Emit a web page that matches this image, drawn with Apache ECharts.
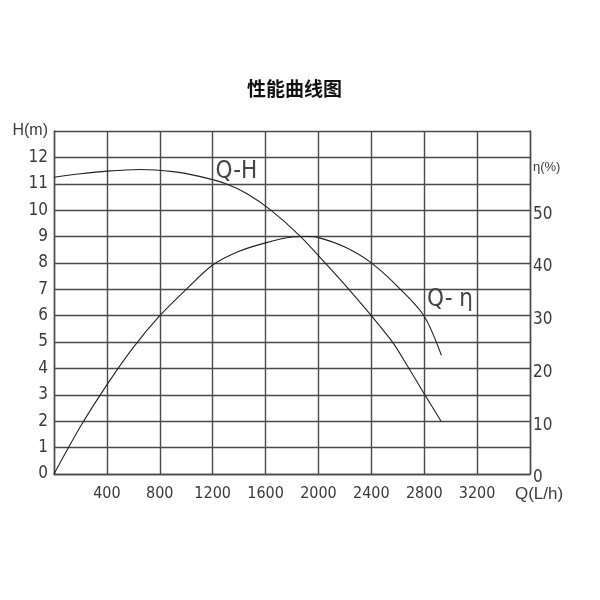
<!DOCTYPE html>
<html>
<head>
<meta charset="utf-8">
<script src="https://cdn.jsdelivr.net/npm/echarts@6/dist/echarts.min.js"></script>
<style>
html,body{margin:0;padding:0;background:#fff;}
#c{width:600px;height:600px;}
</style>
</head>
<body>
<div id="c"></div>
<script>
// Q-H curve (flow L/h, head m)
var qhFlow = [0, 200, 400, 650, 900, 1100, 1300, 1460, 1640, 1865, 2050, 2230, 2400, 2560, 2685, 2805, 2930];
var qhHead = [11.25, 11.38, 11.48, 11.54, 11.46, 11.28, 11.0, 10.62, 10.0, 9.0, 8.0, 7.0, 6.0, 5.0, 4.0, 3.0, 1.98];
// Q-eta curve (flow L/h, efficiency %)
var etaFlow = [0, 200, 400, 600, 800, 1000, 1200, 1400, 1600, 1800, 1900, 2000, 2200, 2400, 2620, 2800, 2930];
var etaVal = [0, 9.0, 16.9, 24.0, 30, 35, 39.6, 42.2, 43.8, 44.9, 45, 44.8, 43.0, 40, 35, 29.9, 22.5];
// axis ticks
var xTicks = [400, 800, 1200, 1600, 2000, 2400, 2800, 3200];
var hTicks = [0, 1, 2, 3, 4, 5, 6, 7, 8, 9, 10, 11, 12];
var etaTicks = [0, 10, 20, 30, 40, 50];
// curve names and label anchors
var qhName = 'Q-H';
var etaName = 'Q- η';
var qhLabelAt = [1380, 11.45];
var etaLabelAt = [2995, 33];

var NARROW = "'Liberation Sans Narrow','DejaVu Sans Condensed',sans-serif";
var GRIDC = '#4a4a4a';
var TXT = '#3a3a3a';

function pairs(xs, ys) { return xs.map(function (x, i) { return [x, ys[i]]; }); }

var chart = echarts.init(document.getElementById('c'));
chart.setOption({
  animation: false,
  backgroundColor: '#fff',
  title: {
    text: '性能曲线图',
    left: 247, top: 79, padding: 0,
    textStyle: { fontFamily: "'Noto Sans CJK SC',sans-serif", fontSize: 19, fontWeight: 'bold', color: '#111' }
  },
  grid: { left: 54, right: 70, top: 131, bottom: 126 },
  xAxis: {
    type: 'value', min: 0, max: 3600, interval: 400,
    axisLine: { show: true, lineStyle: { color: GRIDC, width: 1.4 } },
    axisTick: { show: false },
    splitLine: { show: true, lineStyle: { color: GRIDC, width: 1.4 } },
    axisLabel: {
      margin: 12, color: TXT, fontFamily: NARROW, fontSize: 16,
      formatter: function (v) {
        if (v === 3600) return '{q|Q(L/h)}';
        return xTicks.indexOf(v) >= 0 ? String(v) : '';
      },
      rich: { q: { fontFamily: "'Liberation Sans',sans-serif", fontSize: 17, color: TXT, padding: [0, 0, 0, 18] } }
    }
  },
  yAxis: [{
    type: 'value', min: 0, max: 13, interval: 1, position: 'left',
    axisLine: { show: true, lineStyle: { color: GRIDC, width: 1.4 } },
    axisTick: { show: false },
    splitLine: { show: true, lineStyle: { color: GRIDC, width: 1.4 } },
    axisLabel: {
      margin: 6, color: TXT, fontFamily: NARROW, fontSize: 17,
      formatter: function (v) {
        if (v === 13) return '{h|H(m)}';
        return hTicks.indexOf(v) >= 0 ? String(v) : '';
      },
      rich: { h: { fontFamily: "'Liberation Sans',sans-serif", fontSize: 16, color: TXT } }
    }
  }, {
    type: 'value', min: 0, max: 65, interval: 10, position: 'right',
    axisLine: { show: true, lineStyle: { color: GRIDC, width: 1.4 } },
    axisTick: { show: false },
    splitLine: { show: false },
    axisLabel: {
      margin: 3, color: TXT, fontFamily: NARROW, fontSize: 17, padding: [8, 0, 0, 0],
      formatter: function (v) {
        if (v === 60) return '{e|η(%)}';
        return etaTicks.indexOf(v) >= 0 ? String(v) : '';
      },
      rich: { e: { fontFamily: "'Liberation Sans',sans-serif", fontSize: 13, color: TXT, padding: [12, 0, 0, 0] } }
    }
  }],
  series: [{
    name: qhName, type: 'line', yAxisIndex: 0,
    data: pairs(qhFlow, qhHead),
    smooth: 0.3, showSymbol: false, symbol: 'none',
    lineStyle: { color: '#222', width: 1.1 },
    markPoint: {
      symbol: 'circle', symbolSize: 0,
      data: [{ coord: qhLabelAt, value: qhName }],
      label: { show: true, position: 'inside', formatter: qhName, color: '#444', fontFamily: NARROW, fontSize: 24 }
    }
  }, {
    name: etaName, type: 'line', yAxisIndex: 1,
    data: pairs(etaFlow, etaVal),
    smooth: 0.3, showSymbol: false, symbol: 'none',
    lineStyle: { color: '#222', width: 1.1 },
    markPoint: {
      symbol: 'circle', symbolSize: 0,
      data: [{ coord: etaLabelAt, value: etaName }],
      label: { show: true, position: 'inside', formatter: etaName, color: '#444', fontFamily: NARROW, fontSize: 24 }
    }
  }]
});
</script>
</body>
</html>
